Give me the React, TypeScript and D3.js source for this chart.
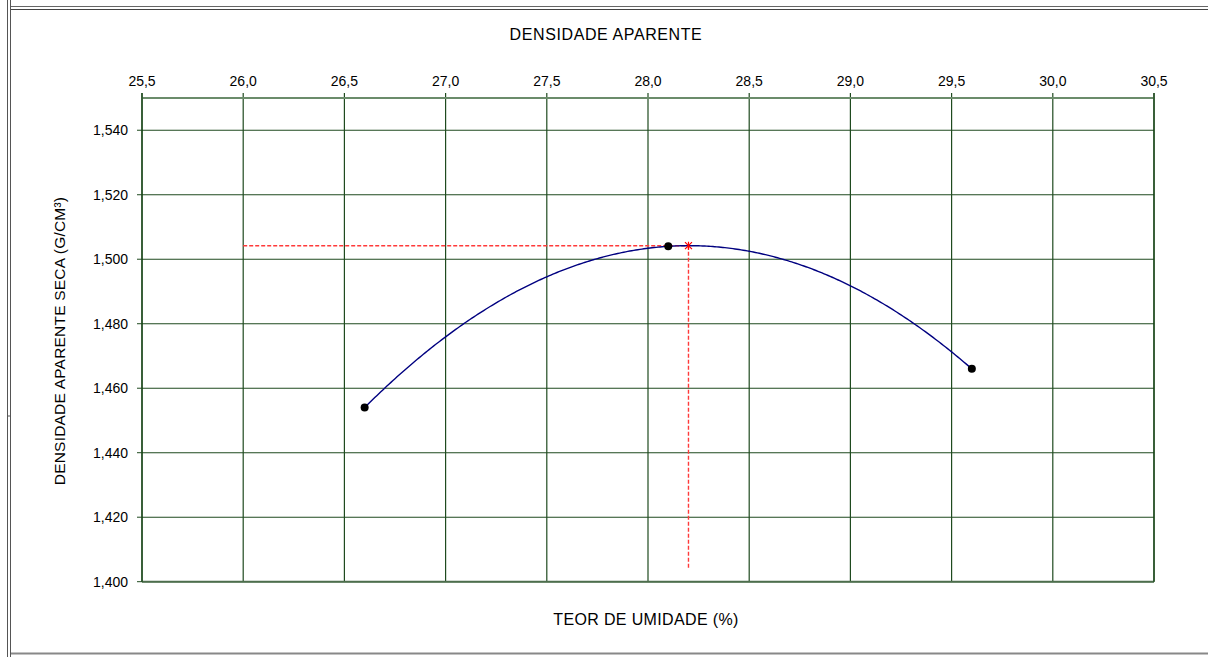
import React from "react";
import * as d3 from "d3";

// ---- data ----
const moisture = [26.6, 28.1, 29.6]; // TEOR DE UMIDADE (%)
const density = [1.454, 1.504, 1.466]; // densidade aparente seca (g/cm³)
const xTicks = [25.5, 26.0, 26.5, 27.0, 27.5, 28.0, 28.5, 29.0, 29.5, 30.0, 30.5];
const yTicks = [1.4, 1.42, 1.44, 1.46, 1.48, 1.5, 1.52, 1.54];
const xDomain = [25.5, 30.5];
const yDomain = [1.4, 1.55];
const refLineXStart = 26.0; // horizontal red guide starts here
const refLineYEnd = 1.404; // vertical red guide ends here

const title = "DENSIDADE APARENTE";
const xTitle = "TEOR DE UMIDADE (%)";
const yTitle = "DENSIDADE APARENTE SECA (G/CM³)";

// quadratic trendline through the measured points (Excel-style polynomial, order 2)
function quadFit(xs: number[], ys: number[]) {
  const [x0, x1, x2] = xs;
  const [y0, y1, y2] = ys;
  return (x: number) =>
    (y0 * (x - x1) * (x - x2)) / ((x0 - x1) * (x0 - x2)) +
    (y1 * (x - x0) * (x - x2)) / ((x1 - x0) * (x1 - x2)) +
    (y2 * (x - x0) * (x - x1)) / ((x2 - x0) * (x2 - x1));
}

const fmtX = (v: number) => v.toFixed(1).replace(".", ",");
const fmtY = (v: number) => v.toFixed(3).replace(".", ",");

export default function App() {
  const W = 1208;
  const H = 657;
  const left = 142;
  const right = 1154;
  const top = 98;
  const bottom = 581.7;

  const x = d3.scaleLinear().domain(xDomain).range([left, right]);
  const y = d3.scaleLinear().domain(yDomain).range([bottom, top]);

  const f = quadFit(moisture, density);
  const xMin = d3.min(moisture)!;
  const xMax = d3.max(moisture)!;
  const samples = d3.range(xMin, xMax + 1e-9, 0.01).map((v) => [v, f(v)] as [number, number]);
  // vertex of the fitted curve (optimum)
  const best = samples.reduce((a, b) => (b[1] > a[1] ? b : a));
  const line = d3
    .line<[number, number]>()
    .x((d) => x(d[0]))
    .y((d) => y(d[1]));

  const font = "'Liberation Sans', Arial, sans-serif";
  const grid = "#1f4a1f";

  return (
    <svg
      width={W}
      height={H}
      style={{ position: "absolute", left: 0, top: 0, background: "#fff" }}
      fontFamily={font}
    >
      {/* outer frame (cell borders) */}
      <line x1={7.5} x2={7.5} y1={0} y2={H} stroke="#555" strokeWidth={1} />
      <line x1={10.5} x2={10.5} y1={0} y2={H} stroke="#555" strokeWidth={1} />
      <line x1={11} x2={W} y1={6.5} y2={6.5} stroke="#666" strokeWidth={1.2} />
      <line x1={11} x2={W} y1={9.5} y2={9.5} stroke="#444" strokeWidth={1.2} />
      <line x1={11} x2={W} y1={653.5} y2={653.5} stroke="#888" strokeWidth={2} />
      <line x1={7.5} x2={10.5} y1={416} y2={416} stroke="#555" strokeWidth={1} />

      {/* gridlines */}
      {yTicks.map((t) => (
        <line key={"gy" + t} x1={left} x2={right} y1={y(t)} y2={y(t)} stroke={grid} strokeWidth={1.1} />
      ))}
      {xTicks.map((t) => (
        <line key={"gx" + t} x1={x(t)} x2={x(t)} y1={top - 5} y2={bottom} stroke={grid} strokeWidth={1.2} />
      ))}
      {/* plot border */}
      <line x1={left} x2={right} y1={top} y2={top} stroke="#6b8c6b" strokeWidth={2} />
      <line x1={left} x2={right} y1={bottom} y2={bottom} stroke="#4d6e4d" strokeWidth={2} />
      <line x1={right} x2={right} y1={top - 5} y2={bottom} stroke="#0f3f0f" strokeWidth={1.2} />
      <line x1={left} x2={left} y1={top - 5} y2={bottom} stroke="#0f3f0f" strokeWidth={1.2} />

      {/* y ticks */}
      {yTicks.map((t) => (
        <g key={"ty" + t}>
          <line x1={left - 5} x2={left} y1={y(t)} y2={y(t)} stroke={grid} />
          <text x={128} y={y(t) + 5} textAnchor="end" fontSize={14} fill="#000">
            {fmtY(t)}
          </text>
        </g>
      ))}
      {/* x ticks (top) */}
      {xTicks.map((t) => (
        <text key={"tx" + t} x={x(t)} y={86} textAnchor="middle" fontSize={14} fill="#000">
          {fmtX(t)}
        </text>
      ))}

      {/* titles */}
      <text x={606} y={40} textAnchor="middle" fontSize={16} letterSpacing={0.6} fill="#000">
        {title}
      </text>
      <text x={646} y={625} textAnchor="middle" fontSize={16} letterSpacing={0.35} fill="#000">
        {xTitle}
      </text>
      <text
        transform={`translate(65, 341) rotate(-90)`}
        textAnchor="middle"
        fontSize={15.5}
        letterSpacing={0.2}
        fill="#000"
      >
        {yTitle}
      </text>

      {/* red guide lines */}
      <line
        x1={x(refLineXStart)}
        x2={x(best[0])}
        y1={y(best[1])}
        y2={y(best[1])}
        stroke="#ff3a3a"
        strokeWidth={1.4}
        strokeDasharray="4,2"
      />
      <line
        x1={x(best[0])}
        x2={x(best[0])}
        y1={y(best[1])}
        y2={y(refLineYEnd)}
        stroke="#ff3a3a"
        strokeWidth={1.4}
        strokeDasharray="4,2"
      />

      {/* fitted curve */}
      <path d={line(samples) || ""} fill="none" stroke="#000080" strokeWidth={1.4} />

      {/* data points */}
      {moisture.map((m, i) => (
        <circle key={"p" + i} cx={x(m)} cy={y(density[i])} r={4} fill="#000" />
      ))}

      {/* optimum marker */}
      <path
        transform={`translate(${x(best[0])},${y(best[1])})`}
        d="M-3.5,-3.5L3.5,3.5M-3.5,3.5L3.5,-3.5M0,-4L0,4"
        stroke="#ff0000"
        strokeWidth={1.2}
        fill="none"
      />
    </svg>
  );
}
